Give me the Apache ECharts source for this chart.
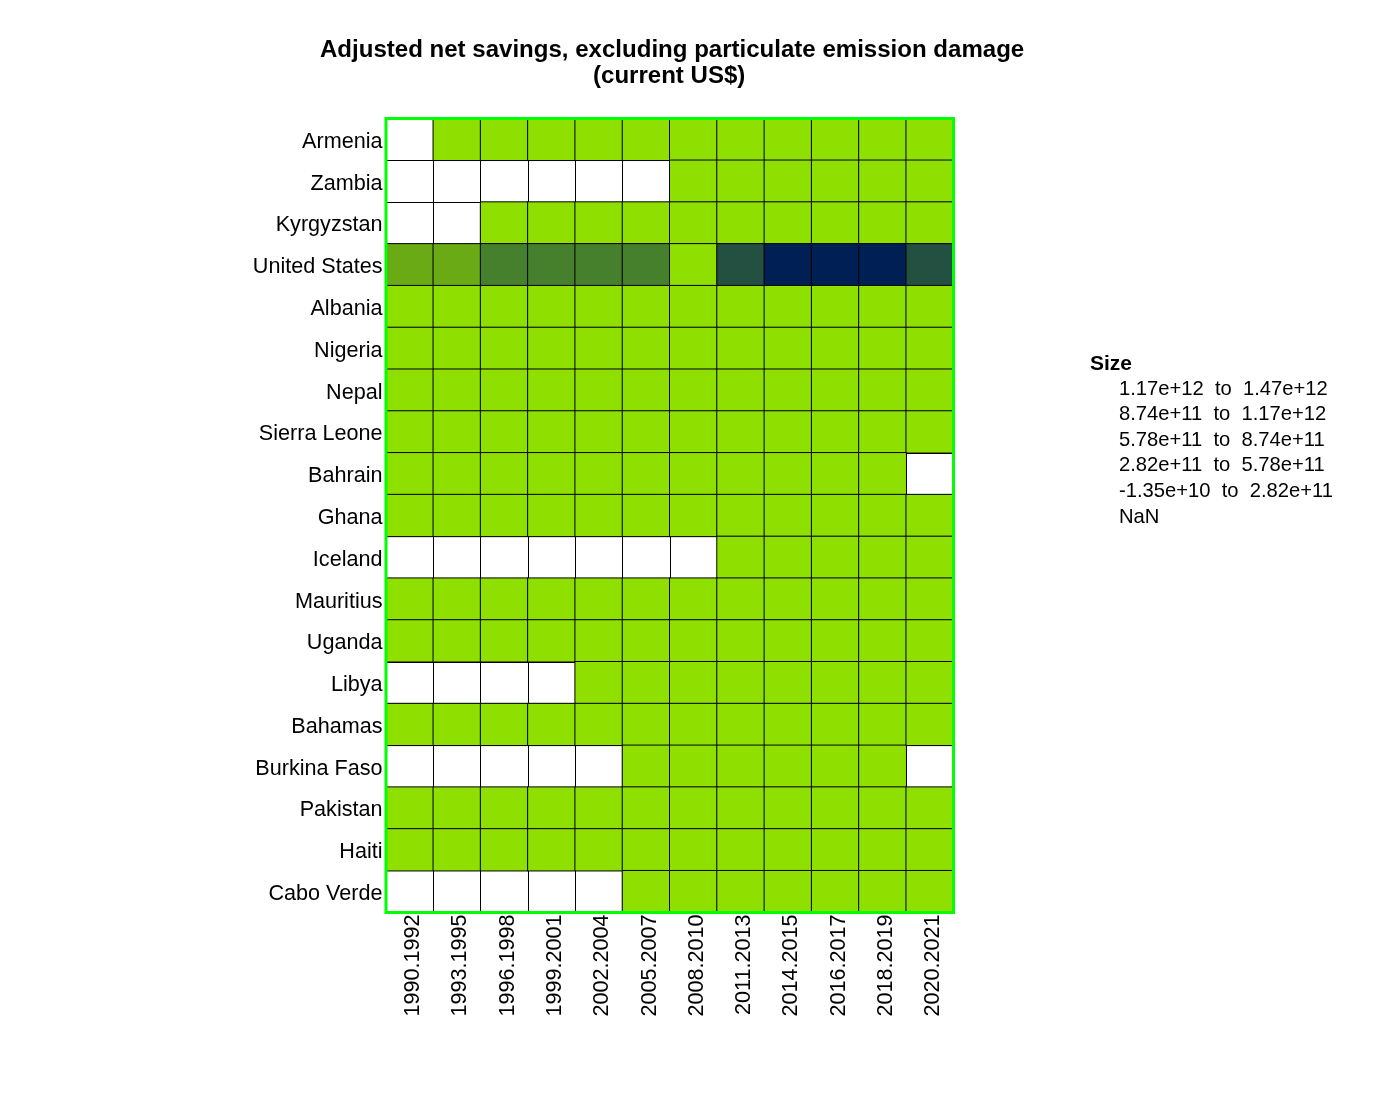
<!DOCTYPE html>
<html><head><meta charset="utf-8">
<script src="https://cdn.jsdelivr.net/npm/echarts@6/dist/echarts.min.js"></script>
<style>html,body{margin:0;padding:0;background:#fff}#c{width:1400px;height:1100px}</style>
</head><body><div id="c"></div>
<script>
const periods = ["1990.1992","1993.1995","1996.1998","1999.2001","2002.2004","2005.2007","2008.2010","2011.2013","2014.2015","2016.2017","2018.2019","2020.2021"];
const countries = ["Armenia","Zambia","Kyrgyzstan","United States","Albania","Nigeria","Nepal","Sierra Leone","Bahrain","Ghana","Iceland","Mauritius","Uganda","Libya","Bahamas","Burkina Faso","Pakistan","Haiti","Cabo Verde"];
const armenia = [null,1e8,2e8,1e8,3e8,9e8,6e8,7e8,9e8,8e8,1e9,8e8];
const zambia = [null,null,null,null,null,null,2e9,3e9,2e9,2e9,3e9,3e9];
const kyrgyzstan = [null,null,1e8,1e8,2e8,2e8,4e8,3e8,4e8,5e8,6e8,5e8];
const unitedStates = [3.6e11,3.8e11,6.6e11,6.9e11,6.5e11,7.2e11,2.0e11,1.02e12,1.35e12,1.38e12,1.47e12,1.0e12];
const albania = [1e8,2e8,3e8,5e8,7e8,1e9,1.5e9,1.6e9,1.3e9,1.5e9,2e9,2e9];
const nigeria = [5e9,6e9,8e9,1e10,2e10,4e10,5e10,8e10,7e10,3e10,4e10,5e10];
const nepal = [5e8,7e8,9e8,1e9,1.2e9,1.7e9,3e9,5e9,7e9,9e9,1e10,1e10];
const sierraLeone = [1e7,-2e7,-5e7,-8e7,1e7,5e7,1e8,-1e8,-2e8,-1e8,1e7,5e7];
const bahrain = [5e8,6e8,5e8,8e8,1e9,3e9,5e9,5e9,3e9,3e9,4e9,null];
const ghana = [3e8,5e8,6e8,4e8,9e8,1.2e9,2e9,4e9,3e9,5e9,6e9,8e9];
const iceland = [null,null,null,null,null,null,null,1e9,3e9,4e9,4e9,3e9];
const mauritius = [4e8,5e8,6e8,7e8,8e8,7e8,9e8,8e8,7e8,8e8,6e8,1e8];
const uganda = [1e8,3e8,5e8,4e8,5e8,1e9,2e9,2e9,3e9,3e9,4e9,4e9];
const libya = [null,null,null,null,1e10,4e10,3e10,2e10,-1e10,-5e9,1e10,5e9];
const bahamas = [2e8,3e8,4e8,6e8,7e8,8e8,6e8,5e8,7e8,6e8,8e8,2e8];
const burkinaFaso = [null,null,null,null,null,3e8,6e8,1.2e9,1e9,1.3e9,1.8e9,null];
const pakistan = [5e9,6e9,7e9,8e9,1.3e10,1.6e10,1.8e10,2.2e10,3e10,3.2e10,3.5e10,4e10];
const haiti = [2e8,3e8,4e8,4e8,3e8,5e8,6e8,1e9,1.2e9,1.3e9,1.5e9,2e9];
const caboVerde = [null,null,null,null,null,1e8,2e8,1.5e8,2e8,2e8,2.5e8,1e8];
const rows = [armenia,zambia,kyrgyzstan,unitedStates,albania,nigeria,nepal,sierraLeone,bahrain,ghana,iceland,mauritius,uganda,libya,bahamas,burkinaFaso,pakistan,haiti,caboVerde];
const binBreaks = [-1.35e10,2.82e11,5.78e11,8.74e11,1.17e12,1.47e12];
const binColors = ["#8FE000","#6AAA15","#47802C","#235040","#002055"];
const titleLines = ["Adjusted net savings, excluding particulate emission damage","(current US$)"];
const legendTitle = "Size";
const legendLabels = ["1.17e+12  to  1.47e+12","8.74e+11  to  1.17e+12","5.78e+11  to  8.74e+11","2.82e+11  to  5.78e+11","-1.35e+10  to  2.82e+11","NaN"];
const FONT = '"Liberation Sans", Arial, sans-serif';
const data = [];
rows.forEach((r, y) => r.forEach((v, x) => { if (v !== null) data.push([x, y, v]); }));
const chart = echarts.init(document.getElementById('c'), null, {renderer:'canvas'});
const graphics = [
  {type:'text', left:320, top:38.5, style:{text:titleLines[0], font:'bold 24.05px '+FONT, fill:'#000'}},
  {type:'text', left:593, top:64.5, style:{text:titleLines[1], font:'bold 24.05px '+FONT, fill:'#000'}},
  {type:'text', left:1090, top:354, style:{text:legendTitle, font:'bold 21px '+FONT, fill:'#000'}}
];
legendLabels.forEach((t,i)=>graphics.push({type:'text', left:1119, top:379+i*25.6, style:{text:t, font:'20.2px '+FONT, fill:'#000'}}));
chart.setOption({
  animation:false,
  backgroundColor:'#fff',
  grid:{left:386,top:118.5,width:567.5,height:794,show:true,z:5,backgroundColor:'transparent',borderColor:'#00FF00',borderWidth:3,containLabel:false},
  xAxis:{type:'category',data:periods,position:'bottom',
    axisLine:{show:false},axisTick:{show:false},
    axisLabel:{rotate:90,interval:0,margin:2,verticalAlign:'top',lineHeight:7,fontFamily:FONT,fontSize:21.6,color:'#000'},
    splitLine:{show:true,interval:0,lineStyle:{color:'#000',width:1}}},
  yAxis:{type:'category',data:countries,inverse:true,
    axisLine:{show:false},axisTick:{show:false},
    axisLabel:{interval:0,margin:3.5,verticalAlign:'top',lineHeight:5,fontFamily:FONT,fontSize:21.6,color:'#000'},
    splitLine:{show:true,interval:0,lineStyle:{color:'#000',width:1}}},
  visualMap:{show:false,type:'piecewise',dimension:2,seriesIndex:0,
    pieces:binColors.map((c,i)=>({gte:binBreaks[i],lte:binBreaks[i+1],color:c}))},
  series:[{type:'heatmap',data:data,progressive:0,itemStyle:{borderColor:'#000',borderWidth:1},emphasis:{disabled:true}}],
  graphic:graphics
});
</script></body></html>
